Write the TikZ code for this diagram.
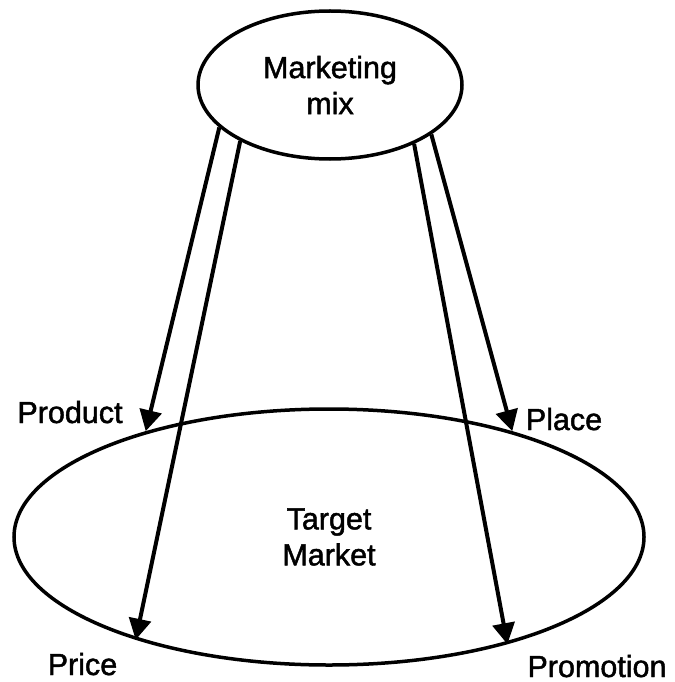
\documentclass[tikz,border=0pt]{standalone}
\usepackage{fontspec}
\setmainfont[FakeBold=1.5]{Liberation Sans}
\usetikzlibrary{shapes.geometric,arrows.meta}
\begin{document}
\begin{tikzpicture}[x=1pt,y=-1pt,
  oval/.style={ellipse,draw,line width=3.5pt,inner sep=0pt,align=center,font=\fontsize{30.5}{36}\selectfont},
  lbl/.style={inner sep=0pt,font=\fontsize{30.5}{36}\selectfont},
  arr/.style={line width=4pt,-{Triangle[length=21pt,width=22pt]}}]
\useasboundingbox (0,0) rectangle (674,682);
\fill[white] (0,0) rectangle (674,682);
\node[oval,minimum width=264pt,minimum height=148pt] (mm) at (330,85) {Marketing\\mix};
\node[oval,minimum width=630pt,minimum height=256pt] (tm) at (329,537) {Target\\Market};
\draw[arr] (mm.201) -- (tm.150.7);
\draw[arr] (mm.212) -- (tm.208.2);
\draw[arr] (mm.325.7) -- (tm.329);
\draw[arr] (mm.334.1) -- (tm.30.3);
\node[lbl,anchor=base] (prod) at (70,423) {Product};
\node[lbl,anchor=base] (plc) at (564,430) {Place};
\node[lbl,anchor=base] (prc) at (82.5,675) {Price};
\node[lbl,anchor=base] (prm) at (597,677) {Promotion};
\end{tikzpicture}
\end{document}
